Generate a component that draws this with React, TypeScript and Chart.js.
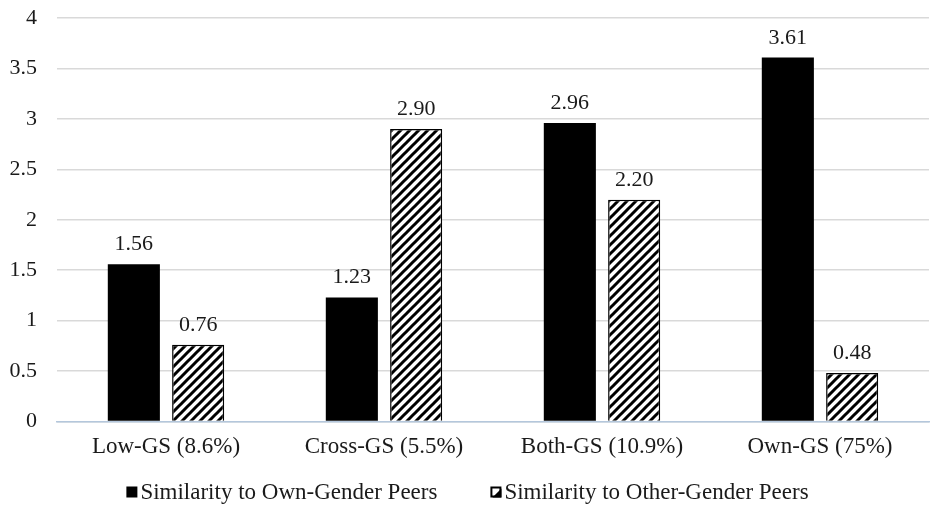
import React, { useEffect, useRef } from "react";
import { Chart, registerables } from "chart.js";

Chart.register(...registerables);

const categories = ["Low-GS (8.6%)", "Cross-GS (5.5%)", "Both-GS (10.9%)", "Own-GS (75%)"];
const ownGender = [1.56, 1.23, 2.96, 3.61];
const otherGender = [0.76, 2.9, 2.2, 0.48];
const seriesNames = ["Similarity to Own-Gender Peers", "Similarity to Other-Gender Peers"];

const FONT = "'Liberation Serif', 'Times New Roman', serif";
const TEXT = "#1a1a1a";

function makeHatch(): CanvasPattern | string {
  const s = 9;
  const c = document.createElement("canvas");
  c.width = s;
  c.height = s;
  const ctx = c.getContext("2d");
  if (!ctx) return "#fff";
  ctx.fillStyle = "#ffffff";
  ctx.fillRect(0, 0, s, s);
  ctx.strokeStyle = "#000000";
  ctx.lineWidth = 3;
  ctx.lineCap = "square";
  ctx.beginPath();
  ctx.moveTo(0, s);
  ctx.lineTo(s, 0);
  ctx.moveTo(-s / 2, s / 2);
  ctx.lineTo(s / 2, -s / 2);
  ctx.moveTo(s / 2, s + s / 2);
  ctx.lineTo(s + s / 2, s / 2);
  ctx.stroke();
  const p = ctx.createPattern(c, "repeat");
  return p || "#fff";
}

const valueLabels = {
  id: "valueLabels",
  afterDatasetsDraw(chart: any) {
    const ctx = chart.ctx;
    ctx.save();
    ctx.font = `22px ${FONT}`;
    ctx.fillStyle = TEXT;
    ctx.textAlign = "center";
    ctx.textBaseline = "alphabetic";
    chart.data.datasets.forEach((ds: any, i: number) => {
      const meta = chart.getDatasetMeta(i);
      meta.data.forEach((el: any, j: number) => {
        const v = ds.data[j] as number;
        ctx.fillText(v.toFixed(2), el.x, el.y - 14);
      });
    });
    ctx.restore();
  },
};

const bottomLegend = {
  id: "bottomLegend",
  afterDraw(chart: any) {
    const ctx = chart.ctx;
    const box = 11;
    const textGap = 3;
    const itemGap = 53;
    const cy = 492;
    ctx.save();
    ctx.font = `23px ${FONT}`;
    ctx.textBaseline = "middle";
    ctx.textAlign = "left";
    const names: string[] = chart.data.datasets.map((d: any) => d.label);
    const widths = names.map((n) => ctx.measureText(n).width);
    const total =
      widths.reduce((a, b) => a + b, 0) + names.length * (box + textGap) + itemGap * (names.length - 1);
    let x = chart.width / 2 - total / 2;
    names.forEach((n, i) => {
      const top = cy - box / 2;
      if (i === 0) {
        ctx.fillStyle = "#000";
        ctx.fillRect(x, top, box, box);
      } else {
        ctx.fillStyle = "#fff";
        ctx.fillRect(x, top, box, box);
        ctx.fillStyle = "#000";
        ctx.beginPath();
        ctx.moveTo(x + box, top + 2);
        ctx.lineTo(x + box, top + box);
        ctx.lineTo(x + 2, top + box);
        ctx.closePath();
        ctx.fill();
        ctx.strokeStyle = "#000";
        ctx.lineWidth = 2;
        ctx.strokeRect(x + 1, top + 1, box - 2, box - 2);
      }
      ctx.fillStyle = TEXT;
      ctx.fillText(n, x + box + textGap, cy + 1);
      x += box + textGap + widths[i] + itemGap;
    });
    ctx.restore();
  },
};

export default function App() {
  const ref = useRef<HTMLCanvasElement | null>(null);

  useEffect(() => {
    document.body.style.margin = "0";
    if (!ref.current) return;
    const hatch = makeHatch();
    const chart = new Chart(ref.current, {
      type: "bar",
      data: {
        labels: categories,
        datasets: [
          {
            label: seriesNames[0],
            data: ownGender,
            backgroundColor: "#000000",
            borderColor: "#000000",
            borderWidth: 0,
            categoryPercentage: 0.59,
            barPercentage: 0.81,
          },
          {
            label: seriesNames[1],
            data: otherGender,
            backgroundColor: hatch as any,
            borderColor: "#000000",
            borderWidth: 1.5,
            categoryPercentage: 0.59,
            barPercentage: 0.81,
          },
        ],
      },
      options: {
        animation: false,
        responsive: true,
        maintainAspectRatio: false,
        layout: { padding: { top: 0, right: 6, left: 0, bottom: 40 } },
        scales: {
          y: {
            min: 0,
            max: 4,
            afterFit: (s: any) => {
              s.width = 57;
            },
            ticks: {
              stepSize: 0.5,
              color: TEXT,
              font: { family: FONT, size: 22 },
              padding: 5,
              callback: (v: any) => String(Number(v)),
            },
            grid: {
              color: "#d9d9d9",
              lineWidth: 1.5,
              drawTicks: true,
              tickLength: 15,
              tickColor: "rgba(0,0,0,0)",
            },
            border: { display: false },
          },
          x: {
            ticks: {
              color: TEXT,
              font: { family: FONT, size: 23 },
              padding: 12,
            },
            grid: { display: false, drawTicks: false },
            border: { display: true, color: "#b4c7dc", width: 1.5 },
          },
        },
        plugins: {
          legend: { display: false },
          tooltip: { enabled: false },
        },
      },
      plugins: [valueLabels, bottomLegend],
    });
    return () => chart.destroy();
  }, []);

  return (
    <div style={{ width: 935, height: 513, position: "relative", background: "#fff" }}>
      <canvas ref={ref} />
    </div>
  );
}
